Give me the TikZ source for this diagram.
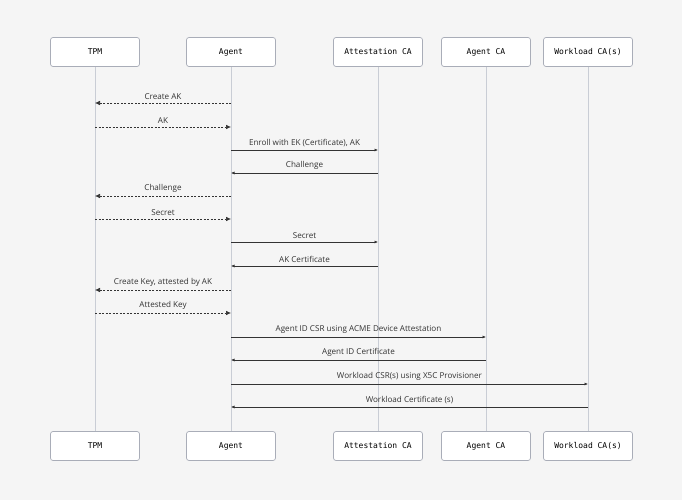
\documentclass[tikz,border=0pt]{standalone}
\usepackage{fontspec}
\setmainfont{Open Sans}
\newfontfamily\boxfont{DejaVu Sans Mono}
\usetikzlibrary{arrows.meta}
\definecolor{bgcol}{HTML}{F5F5F5}
\definecolor{edgecol}{HTML}{A9ADB8}
\definecolor{lifecol}{HTML}{C9CDD5}
\definecolor{inkcol}{HTML}{333333}

\tikzset{
  actor/.style={draw=edgecol, fill=white, rounded corners=2.5pt, line width=0.7pt,
    minimum width=89pt, minimum height=29pt, inner sep=0pt,
    font=\boxfont\fontsize{8}{9}\selectfont, text=black},
  life/.style={draw=lifecol, line width=0.6pt},
  msg/.style={draw=inkcol, line width=0.6pt, -{Latex[length=3.5pt,width=3pt]}},
  dmsg/.style={draw=inkcol, line width=0.6pt, -{Latex[length=5pt,width=4.5pt]},
    dash pattern=on 2pt off 1.5pt},
  lbl/.style={above=3pt, font=\fontsize{8.1}{9}\selectfont, text=inkcol, inner sep=0pt}
}

\begin{document}
\begin{tikzpicture}[x=1pt, y=-1pt]
      \fill [bgcol] (0,0) rectangle (682,500);
      \useasboundingbox (0,0) rectangle (682,500);
      % participants
      \node [actor] (tpm) at (95,52) {TPM};
      \node [actor] (agent) at (231,52) {Agent};
      \node [actor] (attca) at (378,52) {Attestation CA};
      \node [actor] (agentca) at (486,52) {Agent CA};
      \node [actor] (wlca) at (588,52) {Workload CA(s)};
      \node [actor] (tpmb) at (95,446) {TPM};
      \node [actor] (agentb) at (231,446) {Agent};
      \node [actor] (attcab) at (378,446) {Attestation CA};
      \node [actor] (agentcab) at (486,446) {Agent CA};
      \node [actor] (wlcab) at (588,446) {Workload CA(s)};
      % lifelines
      \draw [life] (tpm) -- (tpmb);
      \draw [life] (agent) -- (agentb);
      \draw [life] (attca) -- (attcab);
      \draw [life] (agentca) -- (agentcab);
      \draw [life] (wlca) -- (wlcab);
      % messages
      \draw [dmsg] (agent |- 0,103) -- (tpm |- 0,103) node [lbl, midway] {Create AK};
      \draw [dmsg] (tpm |- 0,127) -- (agent |- 0,127) node [lbl, midway] {AK};
      \draw [msg] (agent |- 0,150) -- (attca |- 0,150) node [lbl, midway] {Enroll with EK (Certificate), AK};
      \draw [msg] (attca |- 0,173) -- (agent |- 0,173) node [lbl, midway] {Challenge};
      \draw [dmsg] (agent |- 0,196) -- (tpm |- 0,196) node [lbl, midway] {Challenge};
      \draw [dmsg] (tpm |- 0,219) -- (agent |- 0,219) node [lbl, midway] {Secret};
      \draw [msg] (agent |- 0,242) -- (attca |- 0,242) node [lbl, midway] {Secret};
      \draw [msg] (attca |- 0,266) -- (agent |- 0,266) node [lbl, midway] {AK Certificate};
      \draw [dmsg] (agent |- 0,290) -- (tpm |- 0,290) node [lbl, midway] {Create Key, attested by AK};
      \draw [dmsg] (tpm |- 0,313) -- (agent |- 0,313) node [lbl, midway] {Attested Key};
      \draw [msg] (agent |- 0,337) -- (agentca |- 0,337) node [lbl, midway] {Agent ID CSR using ACME Device Attestation};
      \draw [msg] (agentca |- 0,360) -- (agent |- 0,360) node [lbl, midway] {Agent ID Certificate};
      \draw [msg] (agent |- 0,384) -- (wlca |- 0,384) node [lbl, midway] {Workload CSR(s) using X5C Provisioner};
      \draw [msg] (wlca |- 0,407) -- (agent |- 0,407) node [lbl, midway] {Workload Certificate (s)};
\end{tikzpicture}
\end{document}
